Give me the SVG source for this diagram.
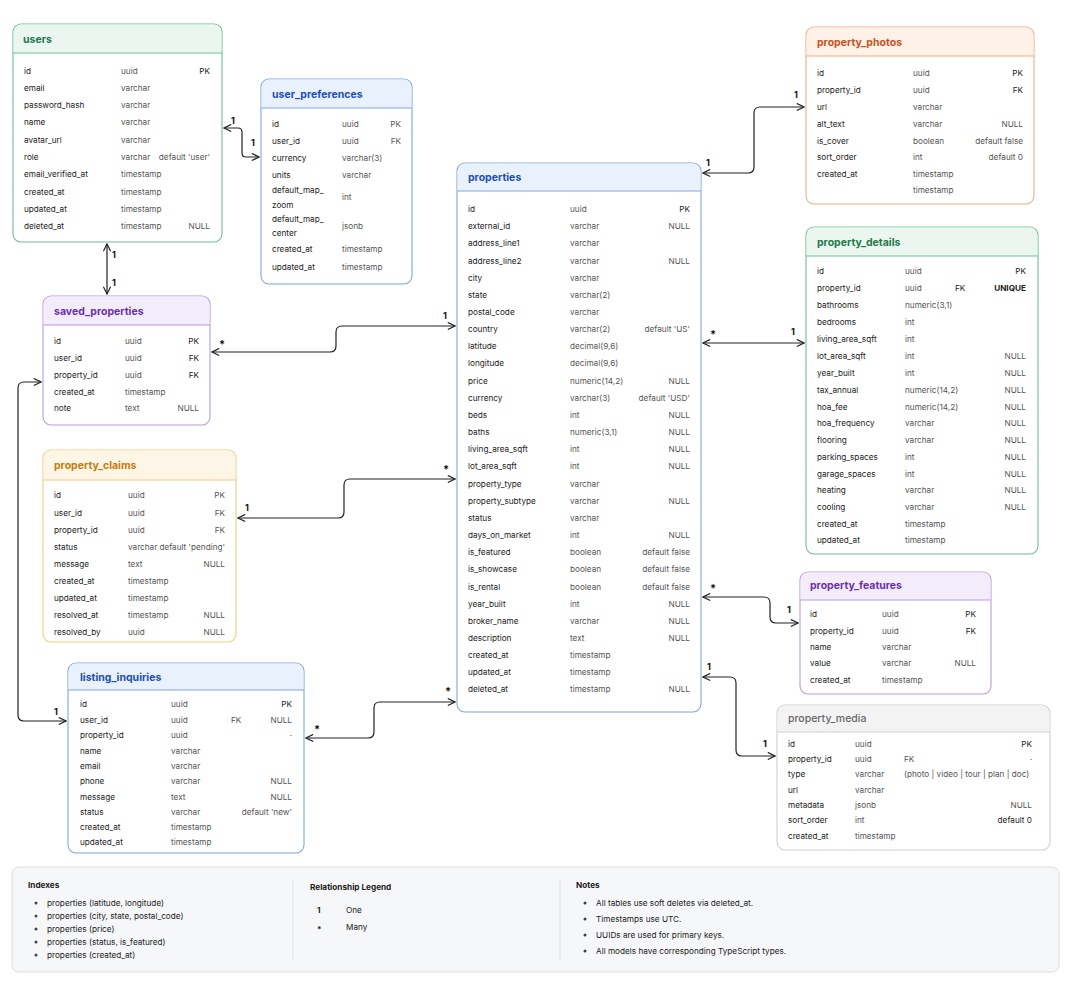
<svg xmlns="http://www.w3.org/2000/svg" width="1070" height="986" viewBox="0 0 1070 986">
<style>
text{font-family:Inter,"Liberation Sans",sans-serif;font-size:8.2px;fill:#222}
.t{font-size:10.5px;font-weight:bold}
.ty{fill:#555}
.r{text-anchor:end}
.lbl{font-size:9px;font-weight:bold;fill:#111}
.star{font-size:11px}
.box{fill:#fff;stroke-width:1.1}
.g{stroke:#6cc092}.gh{fill:#eaf6ef}.gt{fill:#1f7a4c}
.b{stroke:#7fa6e2}.bh{fill:#e9f1fc}.bt{fill:#1d4fb8}
.p{stroke:#b99be0}.ph{fill:#f3edfb}.pt{fill:#6b2fb3}
.y{stroke:#f1cd80}.yh{fill:#fdf6e6}.yt{fill:#c47d0a}
.o{stroke:#f0ac80}.oh{fill:#fdf1e8}.ot{fill:#c8521c}
.k{stroke:#cfcfcf}.kh{fill:#f3f3f4}.kt{fill:#666;font-weight:500}
.conn path{fill:none;stroke:#222;stroke-width:1.2;marker-start:url(#a);marker-end:url(#a)}
</style>
<defs>
<marker id="a" viewBox="0 0 10 10" refX="9" refY="5" markerWidth="9" markerHeight="9" markerUnits="userSpaceOnUse" orient="auto-start-reverse"><path d="M1,1 L9,5 L1,9" fill="none" stroke="#222" stroke-width="1.3"/></marker>
</defs>

<g id="connectors" class="conn">
<path d="M224,128 H238 q4,0 4,4 V153 q0,4 4,4 H259"/>
<path d="M107,244 V294"/>
<path d="M212,352 H330 q6,0 6,-6 V332 q0,-6 6,-6 H455"/>
<path d="M41,382 H24 q-6,0 -6,6 V715 q0,6 6,6 H66"/>
<path d="M238,518 H338 q6,0 6,-6 V485 q0,-6 6,-6 H455"/>
<path d="M306,738 H368 q6,0 6,-6 V708 q0,-6 6,-6 H455"/>
<path d="M703,173 H748 q6,0 6,-6 V113 q0,-6 6,-6 H804"/>
<path d="M703,343 H804"/>
<path d="M703,597 H764 q6,0 6,6 V617 q0,6 6,6 H798"/>
<path d="M703,677 H730 q6,0 6,6 V750 q0,6 6,6 H775"/>
</g>
<g id="labels">
<text class="lbl" x="231" y="124">1</text><text class="lbl" x="251" y="146">1</text>
<text class="lbl" x="112" y="258">1</text><text class="lbl" x="112" y="286">1</text>
<text class="lbl star" x="219" y="348">*</text><text class="lbl" x="443" y="319">1</text>
<text class="lbl" x="54" y="715">1</text>
<text class="lbl" x="245" y="511">1</text><text class="lbl star" x="443" y="473">*</text>
<text class="lbl star" x="314" y="733">*</text><text class="lbl star" x="445" y="695">*</text>
<text class="lbl" x="706" y="166">1</text><text class="lbl" x="794" y="98">1</text>
<text class="lbl star" x="710" y="338">*</text><text class="lbl" x="791" y="335">1</text>
<text class="lbl star" x="710" y="592">*</text><text class="lbl" x="787" y="613">1</text>
<text class="lbl" x="707" y="670">1</text><text class="lbl" x="763" y="747">1</text>
</g>

<g id="users">
<rect class="box g" x="13" y="24" width="209" height="218" rx="8"/>
<path class="gh" d="M21,24.5 H214 a7.5,7.5 0 0 1 7.5,7.5 V53 H13.5 V32 a7.5,7.5 0 0 1 7.5,-7.5z"/>
<path class="g" d="M13,53 H222"/>
<text class="t gt" x="23" y="43">users</text>
<text x="24" y="74">id</text><text class="ty" x="121" y="74">uuid</text><text class="r" x="210" y="74">PK</text>
<text x="24" y="91">email</text><text class="ty" x="121" y="91">varchar</text>
<text x="24" y="108">password_hash</text><text class="ty" x="121" y="108">varchar</text>
<text x="24" y="125">name</text><text class="ty" x="121" y="125">varchar</text>
<text x="24" y="143">avatar_url</text><text class="ty" x="121" y="143">varchar</text>
<text x="24" y="160">role</text><text class="ty" x="121" y="160">varchar</text><text class="ty r" x="210" y="160">default 'user'</text>
<text x="24" y="177">email_verified_at</text><text class="ty" x="121" y="177">timestamp</text>
<text x="24" y="195">created_at</text><text class="ty" x="121" y="195">timestamp</text>
<text x="24" y="212">updated_at</text><text class="ty" x="121" y="212">timestamp</text>
<text x="24" y="229">deleted_at</text><text class="ty" x="121" y="229">timestamp</text><text class="ty r" x="210" y="229">NULL</text>
</g>

<g id="user_preferences">
<rect class="box b" x="261" y="79" width="151" height="205" rx="8"/>
<path class="bh" d="M269,79.5 H404 a7.5,7.5 0 0 1 7.5,7.5 V108 H261.5 V87 a7.5,7.5 0 0 1 7.5,-7.5z"/>
<path class="b" d="M261,108 H412"/>
<text class="t bt" x="272" y="98">user_preferences</text>
<text x="272" y="127">id</text><text class="ty" x="342" y="127">uuid</text><text class="ty r" x="401" y="127">PK</text>
<text x="272" y="144">user_id</text><text class="ty" x="342" y="144">uuid</text><text class="ty r" x="401" y="144">FK</text>
<text x="272" y="161">currency</text><text class="ty" x="342" y="161">varchar(3)</text>
<text x="272" y="178">units</text><text class="ty" x="342" y="178">varchar</text>
<text x="272" y="193">default_map_</text><text x="272" y="208">zoom</text><text class="ty" x="342" y="200">int</text>
<text x="272" y="222">default_map_</text><text x="272" y="236">center</text><text class="ty" x="342" y="229">jsonb</text>
<text x="272" y="252">created_at</text><text class="ty" x="342" y="252">timestamp</text>
<text x="272" y="270">updated_at</text><text class="ty" x="342" y="270">timestamp</text>
</g>

<g id="saved_properties">
<rect class="box p" x="43" y="296" width="167" height="129" rx="8"/>
<path class="ph" d="M51,296.5 H202 a7.5,7.5 0 0 1 7.5,7.5 V325 H43.5 V304 a7.5,7.5 0 0 1 7.5,-7.5z"/>
<path class="p" d="M43,325 H210"/>
<text class="t pt" x="54" y="315">saved_properties</text>
<text x="54" y="344">id</text><text class="ty" x="125" y="344">uuid</text><text class="r" x="199" y="344">PK</text>
<text x="54" y="361">user_id</text><text class="ty" x="125" y="361">uuid</text><text class="r" x="199" y="361">FK</text>
<text x="54" y="378">property_id</text><text class="ty" x="125" y="378">uuid</text><text class="r" x="199" y="378">FK</text>
<text x="54" y="395">created_at</text><text class="ty" x="125" y="395">timestamp</text>
<text x="54" y="411">note</text><text class="ty" x="125" y="411">text</text><text class="ty r" x="199" y="411">NULL</text>
</g>

<g id="property_claims">
<rect class="box y" x="43" y="450" width="193" height="192" rx="8"/>
<path class="yh" d="M51,450.5 H228 a7.5,7.5 0 0 1 7.5,7.5 V480 H43.5 V458 a7.5,7.5 0 0 1 7.5,-7.5z"/>
<path class="y" d="M43,480 H236"/>
<text class="t yt" x="54" y="469">property_claims</text>
<text x="54" y="498">id</text><text class="ty" x="128" y="498">uuid</text><text class="ty r" x="225" y="498">PK</text>
<text x="54" y="516">user_id</text><text class="ty" x="128" y="516">uuid</text><text class="ty r" x="225" y="516">FK</text>
<text x="54" y="533">property_id</text><text class="ty" x="128" y="533">uuid</text><text class="ty r" x="225" y="533">FK</text>
<text x="54" y="550">status</text><text class="ty" x="128" y="550">varchar</text><text class="ty r" x="225" y="550">default 'pending'</text>
<text x="54" y="567">message</text><text class="ty" x="128" y="567">text</text><text class="ty r" x="225" y="567">NULL</text>
<text x="54" y="584">created_at</text><text class="ty" x="128" y="584">timestamp</text>
<text x="54" y="601">updated_at</text><text class="ty" x="128" y="601">timestamp</text>
<text x="54" y="618">resolved_at</text><text class="ty" x="128" y="618">timestamp</text><text class="ty r" x="225" y="618">NULL</text>
<text x="54" y="635">resolved_by</text><text class="ty" x="128" y="635">uuid</text><text class="ty r" x="225" y="635">NULL</text>
</g>

<g id="listing_inquiries">
<rect class="box b" x="68" y="663" width="236" height="190" rx="8"/>
<path class="bh" d="M76,663.5 H296 a7.5,7.5 0 0 1 7.5,7.5 V690 H68.5 V671 a7.5,7.5 0 0 1 7.5,-7.5z"/>
<path class="b" d="M68,690 H304"/>
<text class="t bt" x="80" y="681">listing_inquiries</text>
<text x="80" y="707">id</text><text class="ty" x="171" y="707">uuid</text><text class="r" x="292" y="707">PK</text>
<text x="80" y="723">user_id</text><text class="ty" x="171" y="723">uuid</text><text class="ty" x="231" y="723">FK</text><text class="ty r" x="292" y="723">NULL</text>
<text x="80" y="738">property_id</text><text class="ty" x="171" y="738">uuid</text><text class="ty r" x="292" y="738">·</text>
<text x="80" y="754">name</text><text class="ty" x="171" y="754">varchar</text>
<text x="80" y="769">email</text><text class="ty" x="171" y="769">varchar</text>
<text x="80" y="784">phone</text><text class="ty" x="171" y="784">varchar</text><text class="ty r" x="292" y="784">NULL</text>
<text x="80" y="800">message</text><text class="ty" x="171" y="800">text</text><text class="ty r" x="292" y="800">NULL</text>
<text x="80" y="815">status</text><text class="ty" x="171" y="815">varchar</text><text class="ty r" x="292" y="815">default 'new'</text>
<text x="80" y="830">created_at</text><text class="ty" x="171" y="830">timestamp</text>
<text x="80" y="845">updated_at</text><text class="ty" x="171" y="845">timestamp</text>
</g>

<g id="properties">
<rect class="box b" x="457" y="163" width="244" height="549" rx="8"/>
<path class="bh" d="M465,163.5 H693 a7.5,7.5 0 0 1 7.5,7.5 V191 H457.5 V171 a7.5,7.5 0 0 1 7.5,-7.5z"/>
<path class="b" d="M457,191 H701"/>
<text class="t bt" x="468" y="181">properties</text>
<text x="468" y="212">id</text><text class="ty" x="570" y="212">uuid</text><text class="r" x="690" y="212">PK</text>
<text x="468" y="229">external_id</text><text class="ty" x="570" y="229">varchar</text><text class="ty r" x="690" y="229">NULL</text>
<text x="468" y="246">address_line1</text><text class="ty" x="570" y="246">varchar</text>
<text x="468" y="264">address_line2</text><text class="ty" x="570" y="264">varchar</text><text class="ty r" x="690" y="264">NULL</text>
<text x="468" y="281">city</text><text class="ty" x="570" y="281">varchar</text>
<text x="468" y="298">state</text><text class="ty" x="570" y="298">varchar(2)</text>
<text x="468" y="315">postal_code</text><text class="ty" x="570" y="315">varchar</text>
<text x="468" y="332">country</text><text class="ty" x="570" y="332">varchar(2)</text><text class="ty r" x="690" y="332">default 'US'</text>
<text x="468" y="349">latitude</text><text class="ty" x="570" y="349">decimal(9,6)</text>
<text x="468" y="366">longitude</text><text class="ty" x="570" y="366">decimal(9,6)</text>
<text x="468" y="384">price</text><text class="ty" x="570" y="384">numeric(14,2)</text><text class="ty r" x="690" y="384">NULL</text>
<text x="468" y="401">currency</text><text class="ty" x="570" y="401">varchar(3)</text><text class="ty r" x="690" y="401">default 'USD'</text>
<text x="468" y="418">beds</text><text class="ty" x="570" y="418">int</text><text class="ty r" x="690" y="418">NULL</text>
<text x="468" y="435">baths</text><text class="ty" x="570" y="435">numeric(3,1)</text><text class="ty r" x="690" y="435">NULL</text>
<text x="468" y="452">living_area_sqft</text><text class="ty" x="570" y="452">int</text><text class="ty r" x="690" y="452">NULL</text>
<text x="468" y="469">lot_area_sqft</text><text class="ty" x="570" y="469">int</text><text class="ty r" x="690" y="469">NULL</text>
<text x="468" y="487">property_type</text><text class="ty" x="570" y="487">varchar</text>
<text x="468" y="504">property_subtype</text><text class="ty" x="570" y="504">varchar</text><text class="ty r" x="690" y="504">NULL</text>
<text x="468" y="521">status</text><text class="ty" x="570" y="521">varchar</text>
<text x="468" y="538">days_on_market</text><text class="ty" x="570" y="538">int</text><text class="ty r" x="690" y="538">NULL</text>
<text x="468" y="555">is_featured</text><text class="ty" x="570" y="555">boolean</text><text class="ty r" x="690" y="555">default false</text>
<text x="468" y="572">is_showcase</text><text class="ty" x="570" y="572">boolean</text><text class="ty r" x="690" y="572">default false</text>
<text x="468" y="590">is_rental</text><text class="ty" x="570" y="590">boolean</text><text class="ty r" x="690" y="590">default false</text>
<text x="468" y="607">year_built</text><text class="ty" x="570" y="607">int</text><text class="ty r" x="690" y="607">NULL</text>
<text x="468" y="624">broker_name</text><text class="ty" x="570" y="624">varchar</text><text class="ty r" x="690" y="624">NULL</text>
<text x="468" y="641">description</text><text class="ty" x="570" y="641">text</text><text class="ty r" x="690" y="641">NULL</text>
<text x="468" y="658">created_at</text><text class="ty" x="570" y="658">timestamp</text>
<text x="468" y="675">updated_at</text><text class="ty" x="570" y="675">timestamp</text>
<text x="468" y="692">deleted_at</text><text class="ty" x="570" y="692">timestamp</text><text class="ty r" x="690" y="692">NULL</text>
</g>

<g id="property_photos">
<rect class="box o" x="806" y="27" width="228" height="177" rx="8"/>
<path class="oh" d="M814,27.5 H1026 a7.5,7.5 0 0 1 7.5,7.5 V56 H806.5 V35 a7.5,7.5 0 0 1 7.5,-7.5z"/>
<path class="o" d="M806,56 H1034"/>
<text class="t ot" x="817" y="46">property_photos</text>
<text x="817" y="76">id</text><text class="ty" x="913" y="76">uuid</text><text class="r" x="1023" y="76">PK</text>
<text x="817" y="93">property_id</text><text class="ty" x="913" y="93">uuid</text><text class="r" x="1023" y="93">FK</text>
<text x="817" y="110">url</text><text class="ty" x="913" y="110">varchar</text>
<text x="817" y="127">alt_text</text><text class="ty" x="913" y="127">varchar</text><text class="ty r" x="1023" y="127">NULL</text>
<text x="817" y="144">is_cover</text><text class="ty" x="913" y="144">boolean</text><text class="ty r" x="1023" y="144">default false</text>
<text x="817" y="160">sort_order</text><text class="ty" x="913" y="160">int</text><text class="ty r" x="1023" y="160">default 0</text>
<text x="817" y="177">created_at</text><text class="ty" x="913" y="177">timestamp</text>
<text class="ty" x="913" y="193">timestamp</text>
</g>

<g id="property_details">
<rect class="box g" x="806" y="227" width="232" height="327" rx="8"/>
<path class="gh" d="M814,227.5 H1030 a7.5,7.5 0 0 1 7.5,7.5 V256 H806.5 V235 a7.5,7.5 0 0 1 7.5,-7.5z"/>
<path class="g" d="M806,256 H1038"/>
<text class="t gt" x="817" y="246">property_details</text>
<text x="817" y="274">id</text><text class="ty" x="905" y="274">uuid</text><text class="r" x="1026" y="274">PK</text>
<text x="817" y="291">property_id</text><text class="ty" x="905" y="291">uuid</text><text x="955" y="291">FK</text><text class="r" x="1026" y="291" font-weight="bold">UNIQUE</text>
<text x="817" y="308">bathrooms</text><text class="ty" x="905" y="308">numeric(3,1)</text>
<text x="817" y="325">bedrooms</text><text class="ty" x="905" y="325">int</text>
<text x="817" y="342">living_area_sqft</text><text class="ty" x="905" y="342">int</text>
<text x="817" y="359">lot_area_sqft</text><text class="ty" x="905" y="359">int</text><text class="ty r" x="1026" y="359">NULL</text>
<text x="817" y="376">year_built</text><text class="ty" x="905" y="376">int</text><text class="ty r" x="1026" y="376">NULL</text>
<text x="817" y="393">tax_annual</text><text class="ty" x="905" y="393">numeric(14,2)</text><text class="ty r" x="1026" y="393">NULL</text>
<text x="817" y="410">hoa_fee</text><text class="ty" x="905" y="410">numeric(14,2)</text><text class="ty r" x="1026" y="410">NULL</text>
<text x="817" y="426">hoa_frequency</text><text class="ty" x="905" y="426">varchar</text><text class="ty r" x="1026" y="426">NULL</text>
<text x="817" y="443">flooring</text><text class="ty" x="905" y="443">varchar</text><text class="ty r" x="1026" y="443">NULL</text>
<text x="817" y="460">parking_spaces</text><text class="ty" x="905" y="460">int</text><text class="ty r" x="1026" y="460">NULL</text>
<text x="817" y="477">garage_spaces</text><text class="ty" x="905" y="477">int</text><text class="ty r" x="1026" y="477">NULL</text>
<text x="817" y="493">heating</text><text class="ty" x="905" y="493">varchar</text><text class="ty r" x="1026" y="493">NULL</text>
<text x="817" y="510">cooling</text><text class="ty" x="905" y="510">varchar</text><text class="ty r" x="1026" y="510">NULL</text>
<text x="817" y="527">created_at</text><text class="ty" x="905" y="527">timestamp</text>
<text x="817" y="543">updated_at</text><text class="ty" x="905" y="543">timestamp</text>
</g>

<g id="property_features">
<rect class="box p" x="800" y="572" width="191" height="122" rx="8"/>
<path class="ph" d="M808,572.5 H983 a7.5,7.5 0 0 1 7.5,7.5 V600 H800.5 V580 a7.5,7.5 0 0 1 7.5,-7.5z"/>
<path class="p" d="M800,600 H991"/>
<text class="t pt" x="810" y="589">property_features</text>
<text x="810" y="617">id</text><text class="ty" x="882" y="617">uuid</text><text class="r" x="976" y="617">PK</text>
<text x="810" y="634">property_id</text><text class="ty" x="882" y="634">uuid</text><text class="r" x="976" y="634">FK</text>
<text x="810" y="650">name</text><text class="ty" x="882" y="650">varchar</text>
<text x="810" y="666">value</text><text class="ty" x="882" y="666">varchar</text><text class="ty r" x="976" y="666">NULL</text>
<text x="810" y="683">created_at</text><text class="ty" x="882" y="683">timestamp</text>
</g>

<g id="property_media">
<rect class="box k" x="777" y="705" width="273" height="145" rx="8"/>
<path class="kh" d="M785,705.5 H1042 a7.5,7.5 0 0 1 7.5,7.5 V732 H777.5 V713 a7.5,7.5 0 0 1 7.5,-7.5z"/>
<path class="k" d="M777,732 H1050"/>
<text class="t kt" x="788" y="722">property_media</text>
<text x="788" y="747">id</text><text class="ty" x="855" y="747">uuid</text><text class="r" x="1032" y="747">PK</text>
<text x="788" y="762">property_id</text><text class="ty" x="855" y="762">uuid</text><text class="ty" x="904" y="762">FK</text><text class="ty r" x="1032" y="762">·</text>
<text x="788" y="777">type</text><text class="ty" x="855" y="777">varchar</text><text class="ty" x="904" y="777">(photo | video | tour | plan | doc)</text>
<text x="788" y="793">url</text><text class="ty" x="855" y="793">varchar</text>
<text x="788" y="808">metadata</text><text class="ty" x="855" y="808">jsonb</text><text class="ty r" x="1032" y="808">NULL</text>
<text x="788" y="823">sort_order</text><text class="ty" x="855" y="823">int</text><text class="r" x="1032" y="823">default 0</text>
<text x="788" y="839">created_at</text><text class="ty" x="855" y="839">timestamp</text>
</g>

<g id="legend_panel">
<rect x="12" y="867" width="1047" height="105" rx="7" fill="#f6f7f8" stroke="#dcdde0"/>
<path d="M293,880 V960 M560,880 V960" stroke="#e2e3e6"/>
<text x="28" y="888" font-weight="bold">Indexes</text>
<g fill="#444"><circle cx="36" cy="903" r="1.5"/><circle cx="36" cy="916" r="1.5"/><circle cx="36" cy="929" r="1.5"/><circle cx="36" cy="942" r="1.5"/><circle cx="36" cy="955" r="1.5"/></g>
<text x="47" y="906">properties (latitude, longitude)</text>
<text x="47" y="919">properties (city, state, postal_code)</text>
<text x="47" y="932">properties (price)</text>
<text x="47" y="945">properties (status, is_featured)</text>
<text x="47" y="958">properties (created_at)</text>
<text x="310" y="890" font-weight="bold">Relationship Legend</text>
<text x="317" y="913" font-weight="bold">1</text><text x="346" y="913">One</text>
<text x="317" y="932" font-weight="bold" font-size="11">*</text><text x="346" y="930">Many</text>
<text x="576" y="888" font-weight="bold">Notes</text>
<g fill="#444"><circle cx="585" cy="903" r="1.5"/><circle cx="585" cy="919" r="1.5"/><circle cx="585" cy="935" r="1.5"/><circle cx="585" cy="951" r="1.5"/></g>
<text x="596" y="906">All tables use soft deletes via deleted_at.</text>
<text x="596" y="922">Timestamps use UTC.</text>
<text x="596" y="938">UUIDs are used for primary keys.</text>
<text x="596" y="954">All models have corresponding TypeScript types.</text>
</g>
</svg>
